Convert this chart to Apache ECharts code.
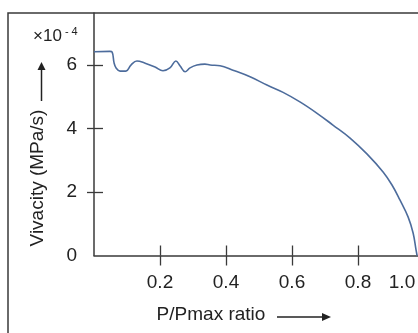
<!DOCTYPE html>
<html><head><meta charset="utf-8">
<script src="https://cdn.jsdelivr.net/npm/echarts@6/dist/echarts.min.js"></script>
<style>html,body{margin:0;padding:0;background:#fff}#c{width:418px;height:333px}</style>
</head><body><div id="c"></div>
<script>
var ratio = [0, 0.048, 0.055, 0.061, 0.067, 0.079, 0.097, 0.112, 0.130, 0.155, 0.185, 0.209, 0.230, 0.248, 0.261, 0.276, 0.291, 0.312, 0.336, 0.352, 0.382, 0.421, 0.473, 0.524, 0.573, 0.624, 0.676, 0.724, 0.776, 0.827, 0.876, 0.903, 0.927, 0.952, 0.967, 0.976, 0.979];
var vivacity = [6.42, 6.43, 6.41, 6.06, 5.91, 5.81, 5.81, 6.00, 6.13, 6.06, 5.94, 5.82, 5.91, 6.13, 5.97, 5.79, 5.91, 6.00, 6.03, 6.00, 5.98, 5.84, 5.63, 5.37, 5.14, 4.84, 4.48, 4.11, 3.70, 3.20, 2.63, 2.22, 1.75, 1.21, 0.71, 0.17, 0];
var xTickLabels = [0.2, 0.4, 0.6, 0.8, 1.0];
var xTicks = [0.2, 0.4, 0.6, 0.8];
var yTickLabels = [0, 2, 4, 6];
var yTicks = [2, 4, 6];

var data = ratio.map(function (r, i) { return [r, vivacity[i]]; });
var FONT = '"Liberation Sans", Arial, sans-serif';
var TXT = '#222';
var AX = '#3a3a3a';

var chart = echarts.init(document.getElementById('c'), null, {renderer: 'canvas'});
chart.setOption({
  animation: false,
  grid: {left: 94, top: 13, width: 330, height: 242.5, outerBoundsMode: 'none', containLabel: false},
  xAxis: [{
    type: 'value', min: 0, max: 1.0,
    axisLine: {show: true, onZero: false, lineStyle: {color: AX, width: 1.5}},
    axisTick: {show: true, customValues: xTicks, length: 10, lineStyle: {color: AX, width: 1.3}},
    axisLabel: {
      customValues: xTickLabels, margin: 18, color: TXT, fontFamily: FONT, fontSize: 19,
      formatter: function (v) { return v === 1 ? '{r|1.0}' : v.toFixed(1); },
      rich: {r: {padding: [0, 44, 0, 0], fontSize: 19, fontFamily: FONT, color: TXT}}
    },
    splitLine: {show: false}
  }, {
    type: 'value', min: 0, max: 1.0, position: 'bottom',
    axisLine: {show: false},
    axisTick: {show: true, inside: true, customValues: xTicks, length: 10, lineStyle: {color: AX, width: 1.3}},
    axisLabel: {show: false}, splitLine: {show: false}
  }],
  yAxis: [{
    type: 'value', min: 0, max: 7.64,
    axisLine: {show: true, onZero: false, lineStyle: {color: AX, width: 1.5}},
    axisTick: {show: true, customValues: yTicks, length: 7, lineStyle: {color: AX, width: 1.3}},
    axisLabel: {customValues: yTickLabels, margin: 17, color: TXT, fontFamily: FONT, fontSize: 19},
    splitLine: {show: false}
  }, {
    type: 'value', min: 0, max: 7.64, position: 'left',
    axisLine: {show: false},
    axisTick: {show: true, inside: true, customValues: yTicks, length: 9, lineStyle: {color: AX, width: 1.3}},
    axisLabel: {show: false}, splitLine: {show: false}
  }],
  series: [{
    type: 'line', data: data, smooth: 0.4, showSymbol: false,
    lineStyle: {color: '#4d6c9c', width: 1.6}
  }],
  graphic: [
    {type: 'rect', shape: {x: 8, y: 13, width: 440, height: 340}, style: {fill: 'none', stroke: AX, lineWidth: 1.5}, silent: true},
    {type: 'text', x: 33, y: 26, style: {text: '{a|×10}{b| - 4}', fill: TXT, rich: {
      a: {fontSize: 17, fontFamily: FONT, fill: TXT, verticalAlign: 'bottom'},
      b: {fontSize: 11, fontFamily: FONT, fill: TXT, verticalAlign: 'top', padding: [0, 0, 8, 0]}
    }}},
    {type: 'text', x: 38, y: 178, rotation: Math.PI / 2, style: {text: 'Vivacity (MPa/s)', fontSize: 19, fontFamily: FONT, fill: TXT, align: 'center', verticalAlign: 'middle'}},
    {type: 'line', shape: {x1: 41.5, y1: 101, x2: 41.5, y2: 68}, style: {stroke: TXT, lineWidth: 1.5}},
    {type: 'polygon', shape: {points: [[41.5, 62], [37.5, 70], [45.5, 70]]}, style: {fill: TXT}},
    {type: 'text', x: 211, y: 315, style: {text: 'P/Pmax ratio', fontSize: 19, fontFamily: FONT, fill: TXT, align: 'center', verticalAlign: 'middle'}},
    {type: 'line', shape: {x1: 277, y1: 317, x2: 324, y2: 317}, style: {stroke: TXT, lineWidth: 1.5}},
    {type: 'polygon', shape: {points: [[331, 317], [322, 313], [322, 321]]}, style: {fill: TXT}}
  ]
});
</script>
</body></html>
